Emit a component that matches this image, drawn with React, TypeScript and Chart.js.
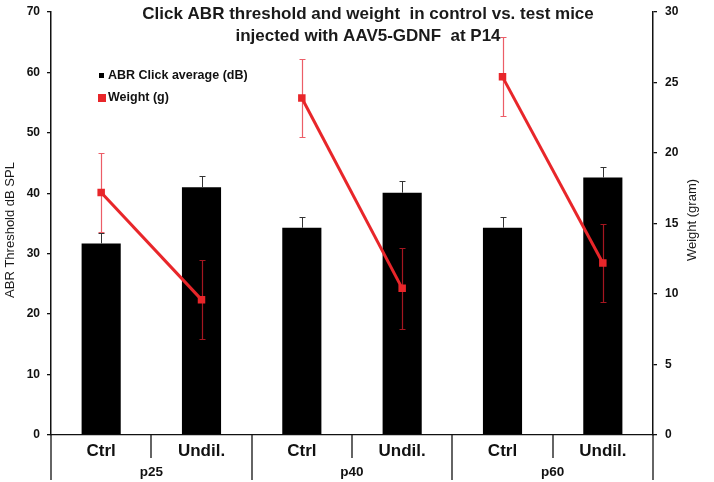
import React, { useEffect, useRef } from 'react';
import { Chart, registerables } from 'chart.js';

Chart.register(...registerables);

const titleLines = [
  'Click ABR threshold and weight  in control vs. test mice',
  'injected with AAV5-GDNF  at P14',
];
const categories = ['Ctrl', 'Undil.', 'Ctrl', 'Undil.', 'Ctrl', 'Undil.'];
const groups = ['p25', 'p40', 'p60'];
const abrValues = [31.7, 41.0, 34.3, 40.1, 34.3, 42.6];
const abrErrors = [1.8, 1.8, 1.8, 1.9, 1.8, 1.8];
const weightValues = [17.2, 9.6, 23.9, 10.4, 25.4, 12.2];
const weightErrors = [2.8, 2.8, 2.8, 2.85, 2.8, 2.8];
const leftAxis = { min: 0, max: 70, step: 10, title: 'ABR Threshold dB SPL' };
const rightAxis = { min: 0, max: 30, step: 5, title: 'Weight (gram)' };
const legendLabels = ['ABR Click average (dB)', 'Weight (g)'];

const FONT = '"Liberation Sans", Arial, Helvetica, sans-serif';
const RED = '#e8262a';

const overlay = {
  id: 'overlay',
  afterDatasetDraw(chart: any, args: any) {
    if (args.meta.type !== 'bar') return;
    const ctx = chart.ctx;
    const x = chart.scales.x;
    const yL = chart.scales.y;
    const yR = chart.scales.y1;
    ctx.save();
    ctx.strokeStyle = '#333';
    ctx.lineWidth = 1;
    abrValues.forEach((v, i) => {
      const px = Math.round(x.getPixelForValue(i)) + 0.5;
      const base = yL.getPixelForValue(v);
      const top = Math.round(yL.getPixelForValue(v + abrErrors[i])) + 0.5;
      ctx.beginPath();
      ctx.moveTo(px, base);
      ctx.lineTo(px, top);
      ctx.moveTo(px - 3, top);
      ctx.lineTo(px + 3, top);
      ctx.stroke();
    });
    ctx.strokeStyle = 'rgba(228,30,45,0.72)';
    ctx.lineWidth = 1.2;
    weightValues.forEach((v, i) => {
      const px = Math.round(x.getPixelForValue(i)) + 0.5;
      const top = Math.round(yR.getPixelForValue(v + weightErrors[i])) + 0.5;
      const bot = Math.round(yR.getPixelForValue(v - weightErrors[i])) + 0.5;
      ctx.beginPath();
      ctx.moveTo(px, top);
      ctx.lineTo(px, bot);
      ctx.moveTo(px - 3, top);
      ctx.lineTo(px + 3, top);
      ctx.moveTo(px - 3, bot);
      ctx.lineTo(px + 3, bot);
      ctx.stroke();
    });
    ctx.restore();
  },
  afterDraw(chart: any) {
    const ctx = chart.ctx;
    const x = chart.scales.x;
    const area = chart.chartArea;
    ctx.save();
    // title
    ctx.fillStyle = '#1a1a1a';
    ctx.font = `bold 17px ${FONT}`;
    ctx.textAlign = 'center';
    ctx.textBaseline = 'middle';
    ctx.fillText(titleLines[0], 368, 14);
    ctx.fillText(titleLines[1], 368, 36);

    // legend
    ctx.fillStyle = '#000';
    ctx.fillRect(99, 73, 5, 5);
    ctx.fillStyle = RED;
    ctx.fillRect(98, 94, 8, 8);
    ctx.fillStyle = '#111';
    ctx.font = `bold 12.5px ${FONT}`;
    ctx.textAlign = 'left';
    ctx.fillText(legendLabels[0], 108, 75.5);
    ctx.fillText(legendLabels[1], 108, 98);

    // axis titles
    ctx.font = `13px ${FONT}`;
    ctx.fillStyle = '#1a1a1a';
    ctx.textAlign = 'center';
    ctx.save();
    ctx.translate(10, 230);
    ctx.rotate(-Math.PI / 2);
    ctx.fillText(leftAxis.title, 0, 0);
    ctx.restore();
    ctx.save();
    ctx.translate(692, 220);
    ctx.rotate(-Math.PI / 2);
    ctx.fillText(rightAxis.title, 0, 0);
    ctx.restore();

    // x category labels
    ctx.fillStyle = '#111';
    ctx.font = `bold 17px ${FONT}`;
    categories.forEach((c, i) => {
      ctx.fillText(c, x.getPixelForValue(i), 451);
    });
    ctx.font = `bold 13.5px ${FONT}`;
    groups.forEach((g, gi) => {
      const cx = (x.getPixelForValue(gi * 2) + x.getPixelForValue(gi * 2 + 1)) / 2;
      ctx.fillText(g, cx, 472);
    });

    // separators
    ctx.strokeStyle = '#111';
    ctx.lineWidth = 1.3;
    const n = categories.length;
    const half = (x.getPixelForValue(1) - x.getPixelForValue(0)) / 2;
    for (let i = 0; i <= n; i++) {
      const bx = Math.round(i === n ? x.getPixelForValue(n - 1) + half : x.getPixelForValue(i) - half);
      const longLine = i % 2 === 0;
      ctx.beginPath();
      ctx.moveTo(bx, area.bottom);
      ctx.lineTo(bx, longLine ? 480 : 458);
      ctx.stroke();
    }
    ctx.restore();
  },
};

export default function App() {
  const ref = useRef<HTMLCanvasElement | null>(null);
  useEffect(() => {
    if (!ref.current) return;
    const red = RED;
    const chart = new Chart(ref.current, {
      type: 'bar',
      data: {
        labels: categories,
        datasets: [
          {
            type: 'bar',
            label: legendLabels[0],
            data: abrValues,
            backgroundColor: '#000',
            borderWidth: 0,
            barPercentage: 0.39,
            categoryPercentage: 1,
            yAxisID: 'y',
            order: 1,
          },
          {
            type: 'line',
            label: legendLabels[1],
            data: weightValues,
            borderColor: red,
            backgroundColor: red,
            borderWidth: 3,
            pointStyle: 'rect',
            pointRadius: 5.3,
            pointBorderWidth: 0,
            pointBackgroundColor: red,
            tension: 0,
            yAxisID: 'y1',
            order: 0,
            segment: {
              borderColor: (c: any) => (c.p0DataIndex % 2 === 1 ? 'rgba(0,0,0,0)' : red),
            },
          } as any,
        ],
      },
      options: {
        responsive: false,
        animation: false,
        devicePixelRatio: 1,
        layout: { padding: { top: 12, left: 0, right: 0, bottom: 0 } },
        plugins: {
          legend: { display: false },
          title: { display: false },
          tooltip: { enabled: false },
        },
        scales: {
          x: {
            type: 'category',
            grid: { display: false },
            border: { display: true, color: '#111', width: 1.3 },
            ticks: { display: false },
            afterFit: (s: any) => {
              s.height = 47;
            },
          },
          y: {
            position: 'left',
            min: leftAxis.min,
            max: leftAxis.max,
            grid: { display: true, drawOnChartArea: false, drawTicks: true, tickLength: 4, color: '#111', lineWidth: 1.3 },
            border: { display: true, color: '#111', width: 1.5 },
            ticks: {
              stepSize: leftAxis.step,
              padding: 7,
              color: '#111',
              font: { family: FONT, size: 12, weight: 'bold' },
            },
            afterFit: (s: any) => {
              s.width = 51;
              s.paddingTop = 0;
              s.paddingBottom = 0;
            },
          },
          y1: {
            position: 'right',
            min: rightAxis.min,
            max: rightAxis.max,
            grid: { display: true, drawOnChartArea: false, drawTicks: true, tickLength: 4, color: '#111', lineWidth: 1.3 },
            border: { display: true, color: '#111', width: 1.5 },
            ticks: {
              stepSize: rightAxis.step,
              padding: 8,
              color: '#111',
              font: { family: FONT, size: 12, weight: 'bold' },
            },
            afterFit: (s: any) => {
              s.width = 61;
              s.paddingTop = 0;
              s.paddingBottom = 0;
            },
          },
        },
      } as any,
      plugins: [overlay],
    });
    return () => chart.destroy();
  }, []);
  return (
    <div style={{ position: 'fixed', left: 0, top: 0, width: 714, height: 482, background: '#fff' }}>
      <canvas ref={ref} width={714} height={482} />
    </div>
  );
}
